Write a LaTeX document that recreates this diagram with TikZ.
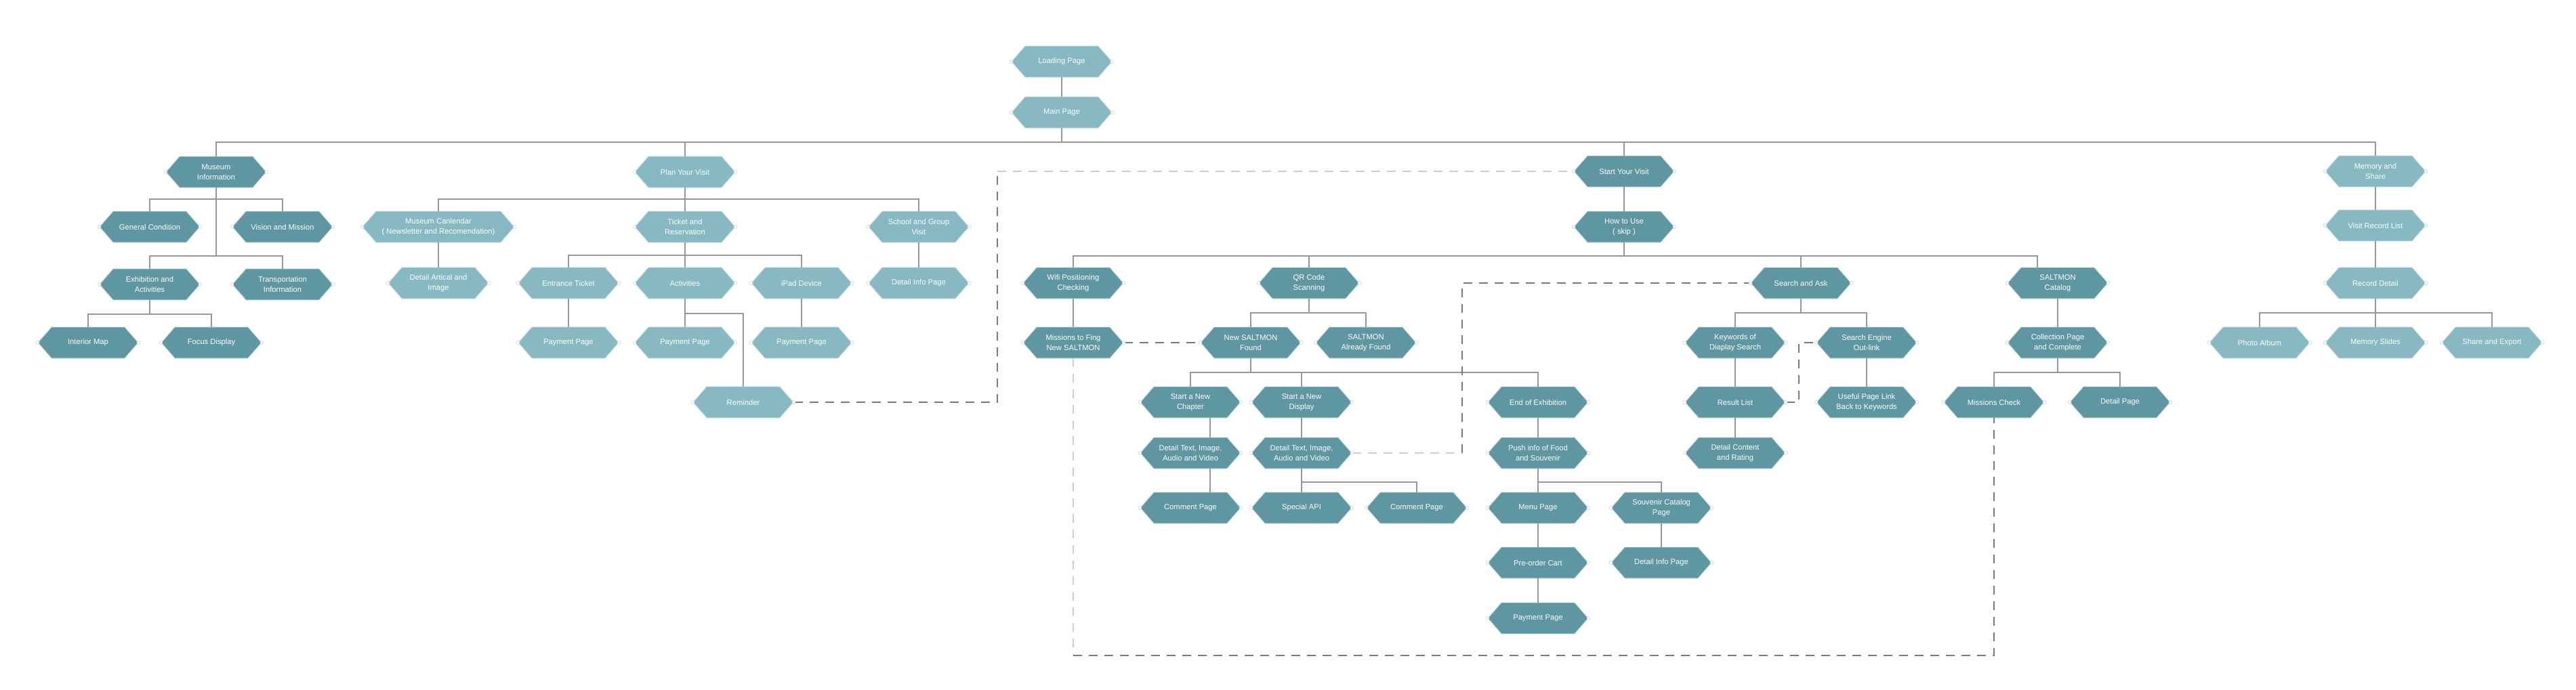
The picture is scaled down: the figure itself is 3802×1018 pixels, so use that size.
\documentclass[tikz,border=0pt]{standalone}
\usepackage{fontspec}
\setmainfont{Liberation Sans}
\usetikzlibrary{shapes.symbols}
\definecolor{hexdark}{RGB}{94,150,161}
\definecolor{hexlight}{RGB}{134,185,193}
\definecolor{hexedge}{RGB}{200,222,226}
\definecolor{linegray}{RGB}{150,150,150}
\definecolor{dashgray}{RGB}{120,120,120}
\definecolor{dashlite}{RGB}{205,205,205}
\newcommand\hexfont{\fontsize{11.2}{15}\selectfont}
\tikzset{
  hexbase/.style={shape=signal, signal to=west and east, signal pointer angle=98,
    minimum width=148pt, minimum height=46pt, inner sep=0pt, text=white,
    align=center, font=\hexfont, draw=hexedge, line width=0.8pt},
  dk/.style={hexbase, fill=hexdark},
  lt/.style={hexbase, fill=hexlight},
  conn/.style={draw=linegray, line width=1.3pt},
  dashdark/.style={draw=dashgray, line width=1.4pt, dash pattern=on 13pt off 10pt},
  dashlight/.style={draw=dashlite, line width=1.4pt, dash pattern=on 13pt off 10pt},
  tipdot/.style={draw=hexedge, fill=white, line width=0.8pt}
}
\newcommand\bus[3]{\draw[conn] (#1.south) -- (#1.south |- 0,#3) -| (#2.north);}
\newcommand\link[2]{\draw[conn] (#1.south) -- (#2.north);}
\begin{document}
\begin{tikzpicture}[x=1pt,y=-1pt]
\path[use as bounding box, fill=white] (0,0) rectangle (3802,1018);

% top
\node[lt] (load) at (1567,91) {Loading Page};
\node[lt] (main) at (1567,166) {Main Page};

% Museum information
\node[dk] (mi) at (319,254) {Museum\\Information};
\node[dk] (gc) at (221,335) {General Condition};
\node[dk] (vm) at (417,335) {Vision and Mission};
\node[dk] (ea) at (221,420) {Exhibition and\\Activities};
\node[dk] (ti) at (417,420) {Transportation\\Information};
\node[dk] (im) at (130,506) {Interior Map};
\node[dk] (fd) at (312,506) {Focus Display};

% Plan your visit
\node[lt] (pv) at (1011,254) {Plan Your Visit};
\node[lt, minimum width=224pt] (mc) at (647,335) {Museum Canlendar\\( Newsletter and Recomendation)};
\node[lt] (tr) at (1011,335) {Ticket and\\Reservation};
\node[lt] (sg) at (1356,335) {School and Group\\Visit};
\node[lt] (da) at (647,418) {Detail Artical and\\Image};
\node[lt] (et) at (839,418) {Entrance Ticket};
\node[lt] (ac) at (1011,418) {Activities};
\node[lt] (ip) at (1183,418) {iPad Device};
\node[lt] (di) at (1356,418) {Detail Info Page};
\node[lt] (pp1) at (839,506) {Payment Page};
\node[lt] (pp2) at (1011,506) {Payment Page};
\node[lt] (pp3) at (1183,506) {Payment Page};
\node[lt] (rem) at (1097,594) {Reminder};

% Start your visit
\node[dk] (sv) at (2397,253) {Start Your Visit};
\node[dk] (hu) at (2397,335) {How to Use\\( skip )};
\node[dk] (wf) at (1584,418) {Wifi Positioning\\Checking};
\node[dk] (qr) at (1932,418) {QR Code\\Scanning};
\node[dk] (sa) at (2658,418) {Search and Ask};
\node[dk] (cat) at (3037,418) {SALTMON\\Catalog};
\node[dk] (mf) at (1584,506) {Missions to Fing\\New SALTMON};
\node[dk] (nf) at (1846,506) {New SALTMON\\Found};
\node[dk] (af) at (2016,506) {SALTMON\\Already Found};
\node[dk] (kw) at (2561,506) {Keywords of\\Diaplay Search};
\node[dk] (se) at (2755,506) {Search Engine\\Out-link};
\node[dk] (cp) at (3037,506) {Collection Page\\and Complete};
\node[dk] (sc) at (1757,594) {Start a New\\Chapter};
\node[dk] (sd) at (1921,594) {Start a New\\Display};
\node[dk] (ee) at (2270,594) {End of Exhibition};
\node[dk] (rl) at (2561,594) {Result List};
\node[dk] (up) at (2755,594) {Useful Page Link\\Back to Keywords};
\node[dk] (mck) at (2943,594) {Missions Check};
\node[dk] (dp) at (3129,594) {Detail Page};
\node[dk] (dt1) at (1757,669) {Detail Text, Image,\\Audio and Video};
\node[dk] (dt2) at (1921,669) {Detail Text, Image,\\Audio and Video};
\node[dk] (pf) at (2270,669) {Push info of Food\\and Souvenir};
\node[dk] (dc) at (2561,669) {Detail Content\\and Rating};
\node[dk] (cm1) at (1757,750) {Comment Page};
\node[dk] (api) at (1921,750) {Special API};
\node[dk] (cm2) at (2091,750) {Comment Page};
\node[dk] (mp) at (2270,750) {Menu Page};
\node[dk] (scp) at (2452,750) {Souvenir Catalog\\Page};
\node[dk] (po) at (2270,831) {Pre-order Cart};
\node[dk] (di2) at (2452,831) {Detail Info Page};
\node[dk] (pp4) at (2270,913) {Payment Page};

% Memory and share
\node[lt] (ms) at (3506,253) {Memory and\\Share};
\node[lt] (vr) at (3506,333) {Visit Record List};
\node[lt] (rd) at (3506,418) {Record Detail};
\node[lt] (pa) at (3335,506) {Photo Album};
\node[lt] (msl) at (3506,506) {Memory Slides};
\node[lt] (sx) at (3678,506) {Share and Export};

% solid connectors
\link{load}{main}
\bus{main}{mi}{210} \bus{main}{pv}{210} \bus{main}{sv}{210} \bus{main}{ms}{210}
\bus{mi}{gc}{294} \bus{mi}{vm}{294} \bus{mi}{ea}{378} \bus{mi}{ti}{378}
\bus{ea}{im}{464} \bus{ea}{fd}{464}
\bus{pv}{mc}{294} \bus{pv}{tr}{294} \bus{pv}{sg}{294}
\link{mc}{da} \link{sg}{di}
\bus{tr}{et}{377} \bus{tr}{ac}{377} \bus{tr}{ip}{377}
\link{et}{pp1} \link{ac}{pp2} \link{ip}{pp3}
\bus{ac}{rem}{463}
\link{sv}{hu}
\bus{hu}{wf}{378} \bus{hu}{qr}{378} \bus{hu}{sa}{378}
\draw[conn] (hu.south) -- (hu.south |- 0,378) -| ([xshift=-30pt]cat.north);
\link{wf}{mf}
\bus{qr}{nf}{462} \bus{qr}{af}{462}
\bus{nf}{sc}{550} \bus{nf}{sd}{550} \bus{nf}{ee}{550}
\draw[conn] ([xshift=29pt]sc.south) -- ([xshift=29pt]dt1.north);
\draw[conn] ([xshift=29pt]dt1.south) -- ([xshift=29pt]cm1.north);
\link{sd}{dt2}
\bus{dt2}{api}{712} \bus{dt2}{cm2}{712}
\link{ee}{pf}
\bus{pf}{mp}{712} \bus{pf}{scp}{712}
\link{mp}{po} \link{po}{pp4} \link{scp}{di2}
\bus{sa}{kw}{462} \bus{sa}{se}{462}
\link{kw}{rl} \link{rl}{dc} \link{se}{up}
\link{cat}{cp}
\bus{cp}{mck}{550} \bus{cp}{dp}{550}
\link{ms}{vr} \link{vr}{rd}
\bus{rd}{pa}{462} \bus{rd}{msl}{462} \bus{rd}{sx}{462}

% dashed connectors
\coordinate (c1) at (1472,253);
\draw[dashdark] (rem.east) -| (c1);
\draw[dashlight] (c1) -- (sv.west);
\draw[dashdark] (mf.east) -- (nf.west);
\coordinate (c2) at (1584,968);
\draw[dashlight] (mf.south) -- (c2);
\draw[dashdark] (c2) -| (mck.south);
\coordinate (c3) at (2158,669);
\draw[dashlight] (dt2.east) -- (c3);
\draw[dashdark] (c3) |- (sa.west);
\coordinate (c4) at (2655,594);
\draw[dashdark] (rl.east) -- (c4) |- (se.west);

% connection dots at the tips
\foreach \n in {load,main,mi,gc,vm,ea,ti,im,fd,pv,mc,tr,sg,da,et,ac,ip,di,pp1,pp2,pp3,rem,
  sv,hu,wf,qr,sa,cat,mf,nf,af,kw,se,cp,sc,sd,ee,rl,up,mck,dp,dt1,dt2,pf,dc,cm1,api,cm2,
  mp,scp,po,di2,pp4,ms,vr,rd,pa,msl,sx}
  {\draw[tipdot] (\n.west) circle[radius=2.5pt] (\n.east) circle[radius=2.5pt];}
\end{tikzpicture}
\end{document}
